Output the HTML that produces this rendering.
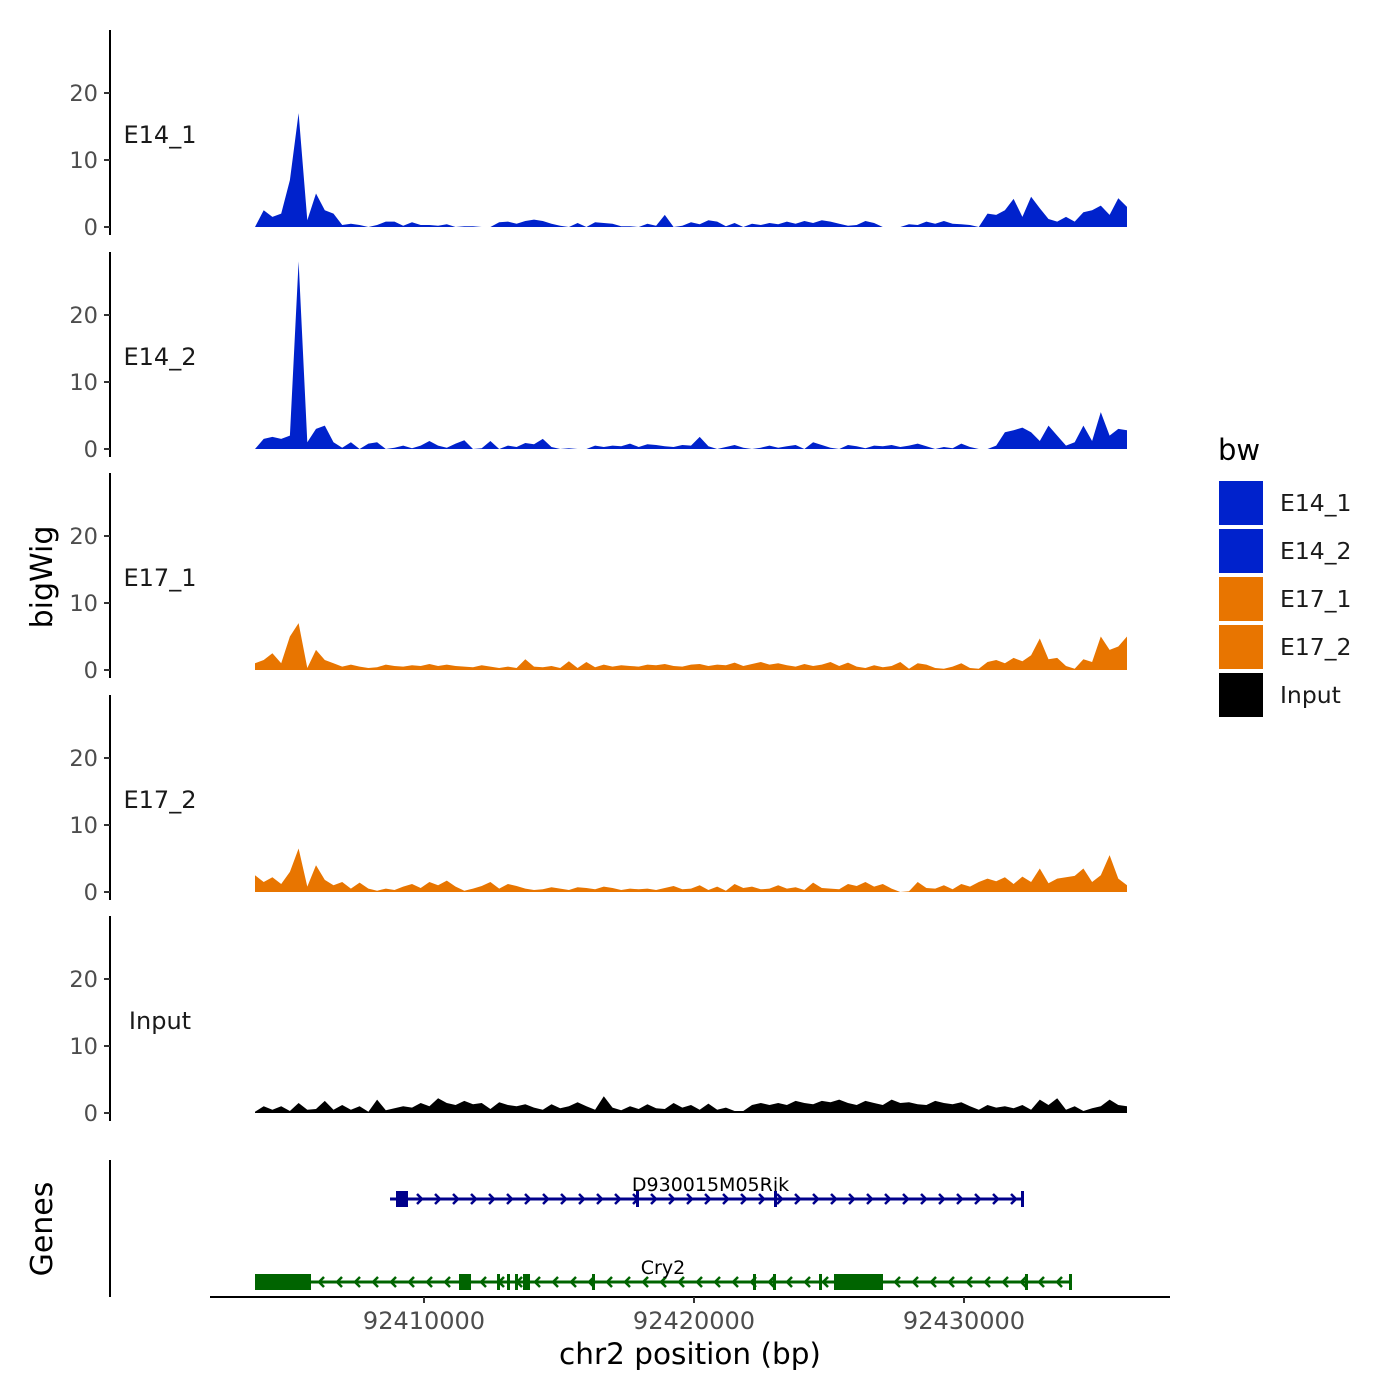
<!DOCTYPE html>
<html><head><meta charset="utf-8"><style>
html,body{margin:0;padding:0;background:#fff;}
svg{display:block;font-family:"DejaVu Sans","Liberation Sans",sans-serif;}
</style></head><body>
<svg id="chart" width="1400" height="1400" xmlns="http://www.w3.org/2000/svg"></svg>
<script>
const trackNames = ["E14_1","E14_2","E17_1","E17_2","Input"];
const trackColors = ["#0022CC","#0022CC","#E87500","#E87500","#000000"];
const xTicks = [92410000,92420000,92430000];
const yTicks = [0,10,20];
const E14_1 = [0,2.5,1.5,2,7,17,1,5,2.5,2,0.3,0.5,0.3,0,0.3,0.8,0.8,0.2,0.7,0.3,
0.3,0.2,0.4,0,0.1,0.1,0,0,0.7,0.8,0.5,0.9,1.1,0.9,0.5,0.2,0,0.6,0,0.7,
0.6,0.5,0.1,0.1,0,0.5,0.2,1.8,0,0.2,0.7,0.4,1,0.8,0.1,0.6,0,0.5,0.3,0.6,
0.4,0.8,0.5,0.9,0.6,1,0.8,0.5,0.2,0.3,0.9,0.6,0,0,0,0.4,0.3,0.8,0.5,0.9,
0.5,0.4,0.3,0,2,1.8,2.5,4.2,1.5,4.5,2.8,1.2,0.8,1.5,0.8,2.2,2.5,3.2,1.8,4.3,3];
const E14_2 = [0,1.5,1.8,1.5,2,28,1,3,3.5,1,0.2,1,0,0.8,1,0,0.2,0.5,0.1,0.5,
1.2,0.5,0.2,0.8,1.3,0,0.1,1.2,0,0.5,0.3,0.9,0.7,1.5,0.3,0,0.1,0,0,0.5,
0.3,0.5,0.4,0.8,0.3,0.7,0.6,0.4,0.3,0.6,0.5,1.8,0.4,0,0.3,0.6,0.2,0,0.2,0.5,
0.2,0.4,0.6,0,1,0.6,0.2,0,0.6,0.4,0.1,0.5,0.4,0.6,0.3,0.5,0.8,0.4,0,0.3,
0.1,0.8,0.3,0,0,0.5,2.5,2.8,3.2,2.5,1.2,3.5,2,0.5,1,3.5,1.2,5.5,2,3,2.8];
const E17_1 = [1,1.5,2.5,1,5,7,0.3,3,1.5,1,0.5,0.8,0.5,0.3,0.4,0.8,0.6,0.5,0.7,0.6,
0.9,0.6,0.8,0.6,0.5,0.4,0.7,0.5,0.3,0.5,0.3,1.6,0.5,0.4,0.6,0.3,1.3,0.3,1.2,0.4,
0.8,0.5,0.7,0.6,0.5,0.8,0.7,0.9,0.6,0.5,0.8,0.9,0.6,0.8,0.7,1.1,0.6,0.9,1.2,0.8,
1,0.7,0.5,0.9,0.6,0.8,1.2,0.6,1.1,0.5,0.3,0.7,0.4,0.6,1.2,0.2,1,0.8,0.3,0.2,
0.5,1,0.3,0.2,1.2,1.5,1,1.8,1.3,2.2,4.7,1.6,1.8,0.6,0.2,1.6,1.2,5,3,3.5,5];
const E17_2 = [2.5,1.5,2.2,1.2,3,6.5,0.8,4,1.8,1,1.5,0.5,1.4,0.5,0.2,0.5,0.3,0.8,1.2,0.6,
1.5,1,1.7,0.8,0.2,0.5,0.9,1.5,0.5,1.2,0.9,0.5,0.3,0.4,0.7,0.5,0.3,0.7,0.6,0.4,
0.8,0.6,0.3,0.5,0.4,0.5,0.3,0.6,0.9,0.4,0.5,1,0.3,0.8,0.2,1.2,0.6,0.8,0.4,0.5,
1,0.5,0.7,0.3,1.4,0.6,0.5,0.4,1.2,0.9,1.5,0.8,1.2,0.5,0,0.1,1.5,0.6,0.5,1,
0.4,1.2,0.8,1.5,2,1.6,2.2,1.2,2.3,1.5,3.5,1.3,2,2.2,2.4,3.5,1.5,2.5,5.5,2,1];
const Input = [0.2,1,0.5,1,0.3,1.5,0.5,0.6,1.8,0.5,1.2,0.5,1,0.2,2,0.4,0.7,1,0.8,1.5,
1,2.2,1.5,1.2,1.8,1.3,1.5,0.6,1.6,1.2,1,1.3,0.8,0.5,1.3,0.7,1,1.6,1,0.5,
2.5,0.8,0.4,1,0.6,1.3,0.7,0.6,1.5,0.8,1.2,0.5,1.4,0.5,0.8,0.3,0.3,1.2,1.5,1.2,
1.5,1.2,1.8,1.5,1.3,1.8,1.6,2,1.5,1.2,1.8,1.5,1.2,2,1.5,1.6,1.3,1.2,1.8,1.5,
1.3,1.6,1,0.5,1.2,0.8,1,0.7,1.2,0.5,2,1.2,2.2,0.5,1,0.3,0.7,1,2,1.2,1];
const seriesValues = [E14_1,E14_2,E17_1,E17_2,Input];
const binStart = 92403741, binEnd = 92436037;
const geneNames = ["D930015M05Rik","Cry2"];
const gene1Span = [92408741,92432185];
const gene1Exons = [[92408963,92409407],[92417852,92417889],[92422963,92423000],[92432111,92432185]];
const gene2Span = [92403741,92433963];
const gene2Exons = [[92403741,92405815],[92411296,92411741],[92412704,92412741],[92413074,92413185],[92413370,92413407],[92413667,92413926],[92416222,92416259],[92422185,92422222],[92422926,92422963],[92424630,92424667],[92425185,92427000],[92432259,92432296],[92433889,92433963]];

const NS="http://www.w3.org/2000/svg";
const svg=document.getElementById('chart');
function mk(tag,attrs,parent){const e=document.createElementNS(NS,tag);for(const k in attrs)e.setAttribute(k,attrs[k]);(parent||svg).appendChild(e);return e;}
const xs = bp => 424 + (bp-92410000)*0.027;
const zeroY=[227,449,670,892,1113];
const ys = (t,v) => zeroY[t] - v*6.7;

seriesValues.forEach((vals,t)=>{
  const g=mk('g',{});
  
  
  const n=vals.length;
  let d='M'+xs(binStart)+','+zeroY[t];
  vals.forEach((v,i)=>{const bp=binStart+(binEnd-binStart)*i/(n-1);d+=' L'+xs(bp).toFixed(1)+','+ys(t,v).toFixed(1);});
  d+=' L'+xs(binEnd)+','+zeroY[t]+' Z';
  const p=mk('path',{d:d,fill:trackColors[t],stroke:'none'},g);
  
  
  const ax=mk('line',{x1:110,x2:110,y1:zeroY[t]-197,y2:zeroY[t]+8,stroke:'#000','stroke-width':2},g);
  
  
  yTicks.forEach(v=>{
    mk('line',{x1:104,x2:110,y1:ys(t,v),y2:ys(t,v),stroke:'#333','stroke-width':2},g);
    const tl=mk('text',{x:98,y:ys(t,v)+8,'text-anchor':'end','font-size':22.5,fill:'#4d4d4d'},g);
    tl.textContent=v;
    
    
  });
  const lab=mk('text',{x:160,y:zeroY[t]-84,'text-anchor':'middle','font-size':24,fill:'#1a1a1a'},g);
  lab.textContent=trackNames[t];
  
  
});

const yt=mk('text',{x:0,y:0,transform:'translate(52,577) rotate(-90)','text-anchor':'middle','font-size':30,fill:'#000'});
yt.textContent='bigWig';



const gt=mk('text',{x:0,y:0,transform:'translate(52,1229) rotate(-90)','text-anchor':'middle','font-size':30,fill:'#000'});
gt.textContent='Genes';


const gax=mk('line',{x1:110,x2:110,y1:1160,y2:1297,stroke:'#000','stroke-width':2});



function drawGene(name,span,exons,y,color,dir,labelShift){
  const g=mk('g',{});
  
  
  const x0=xs(span[0]),x1=xs(span[1]);
  mk('line',{x1:x0,x2:x1,y1:y,y2:y,stroke:color,'stroke-width':3},g);
  for(let x=x0+12;x<x1-5;x+=18){
    const d=dir>0?`M${x-3},${y-5} L${x+2},${y} L${x-3},${y+5}`:`M${x+3},${y-5} L${x-2},${y} L${x+3},${y+5}`;
    mk('path',{d:d,stroke:color,'stroke-width':2.5,fill:'none'},g);
  }
  exons.forEach(e=>{
    const a=xs(e[0]),b=xs(e[1]);const w=Math.max(b-a,3);
    const r=mk('rect',{x:a,y:y-8,width:w,height:16,fill:color},g);
    
    
  });
  const t=mk('text',{x:(x0+x1)/2+labelShift,y:y-8,'text-anchor':'middle','font-size':19,fill:'#000'},g);
  t.textContent=name;
  
  
}
drawGene(geneNames[0],gene1Span,gene1Exons,1199,'#00008B',1,4);
drawGene(geneNames[1],gene2Span,gene2Exons,1282,'#006400',-1,0);

const xa=mk('line',{x1:210,x2:1170,y1:1297,y2:1297,stroke:'#000','stroke-width':2});


xTicks.forEach(v=>{
  mk('line',{x1:xs(v),x2:xs(v),y1:1297,y2:1303,stroke:'#333','stroke-width':2});
  const t=mk('text',{x:xs(v),y:1329,'text-anchor':'middle','font-size':24,fill:'#4d4d4d'});
  t.textContent=v;
  
  
});
const xt=mk('text',{x:690,y:1364,'text-anchor':'middle','font-size':29.5,fill:'#000'});
xt.textContent='chr2 position (bp)';



const lg=mk('g',{});


const lt=mk('text',{x:1218,y:460,'font-size':29,fill:'#000'},lg);
lt.textContent='bw';


trackNames.forEach((n,i)=>{
  const y=480+i*48;
  const r=mk('rect',{x:1218,y:y,width:46,height:46,fill:trackColors[i],stroke:'#fff','stroke-width':2},lg);
  
  
  const t=mk('text',{x:1280,y:y+31,'font-size':23.5,fill:'#1a1a1a'},lg);
  t.textContent=n;
  
  
});
</script>
</body></html>
